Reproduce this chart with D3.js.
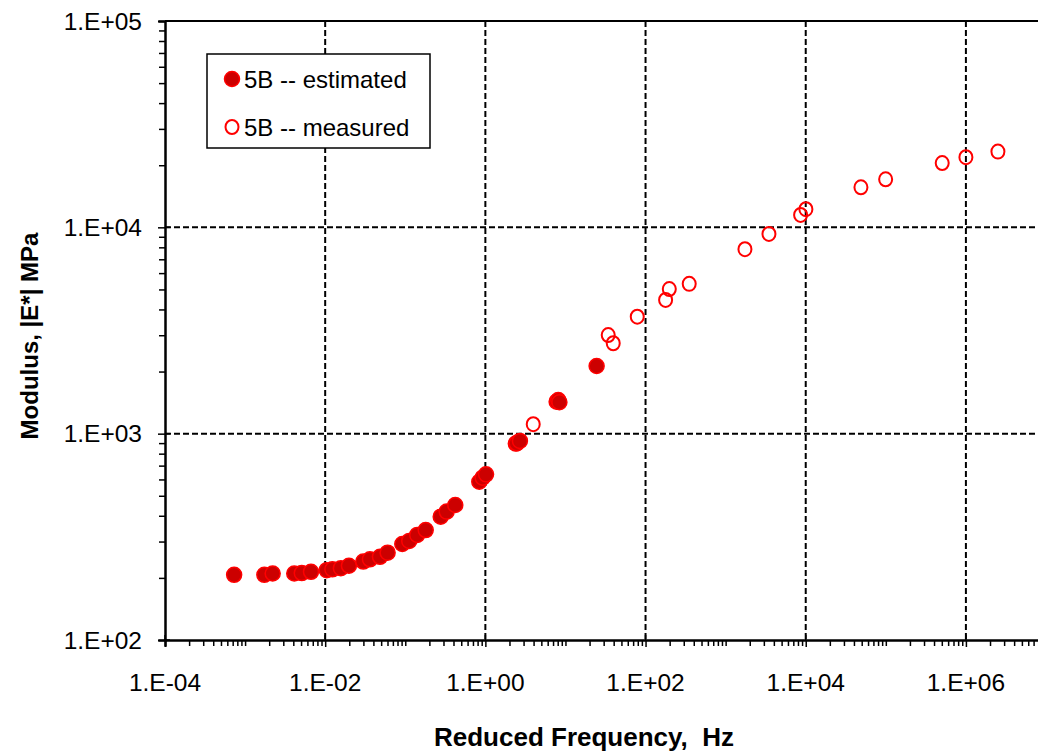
<!DOCTYPE html>
<html><head><meta charset="utf-8">
<script src="https://cdn.jsdelivr.net/npm/d3@7"></script>
<style>body{margin:0;background:#fff}svg{display:block}text{font-family:Arial,"Liberation Sans",sans-serif}</style>
</head><body>
<svg id="chart" width="1038" height="756"></svg>
<script>
// Estimated series (reduced frequency Hz, |E*| MPa)
const estFreq = [7.3e-4,1.74e-3,2.21e-3,4.11e-3,5.1e-3,6.65e-3,0.01045,0.0123,0.0157,0.0198,0.0299,0.0362,0.0483,0.0602,0.0918,0.112,0.141,0.180,0.277,0.329,0.421,0.84,0.925,1.02,2.40,2.46,2.70,7.76,8.13,8.4,24.5];
const estMod  = [207,207,210,210,211,214,218,220,223,229,240,246,253,265,292,302,323,341,396,419,451,585,612,635,895,898,922,1429,1456,1420,2128];
// Measured series
const measFreq = [3.96,34.2,39.5,78.8,178,198,351,1742,3474,8630,10050,48900,99500,506000,1.0e6,2.51e6];
const measMod  = [1112,3006,2743,3690,4446,5024,5321,7835,9290,11480,12250,15630,17100,20480,21880,23280];
const xMajor = [1e-4,1e-2,1e0,1e2,1e4,1e6];
const yMajor = [1e2,1e3,1e4,1e5];
const seriesNames = ["5B -- estimated","5B -- measured"];
const xTitle = "Reduced Frequency,\u00a0 Hz";
const yTitle = "Modulus, |E*| MPa";

const svg = d3.select("#chart");
const x = d3.scaleLog().domain([1e-4,1e7]).range([165,1046]);
const y = d3.scaleLog().domain([1e2,1e5]).range([640,21]);
const fmt = v => { const e = Math.round(Math.log10(v)); return "1.E" + (e<0?"-":"+") + String(Math.abs(e)).padStart(2,"0"); };

// minor tick values
const xMinor = [], yMinor = [];
for (let e=-4;e<7;e++) for (let m=1;m<10;m++){ const v=m*Math.pow(10,e); if(!xMajor.includes(v)) xMinor.push(v);}
for (let e=2;e<5;e++) for (let m=2;m<10;m++) yMinor.push(m*Math.pow(10,e));

// grid
const g = svg.append("g");
g.selectAll(".vg").data(xMajor.slice(1)).join("line")
  .attr("x1",d=>x(d)).attr("x2",d=>x(d)).attr("y1",y(1e5)).attr("y2",y(1e2))
  .attr("stroke","#000").attr("stroke-width",2).attr("stroke-dasharray","6,3");
g.selectAll(".hg").data([1e3,1e4]).join("line")
  .attr("x1",x(1e-4)).attr("x2",x(1e7)).attr("y1",d=>y(d)).attr("y2",d=>y(d))
  .attr("stroke","#000").attr("stroke-width",2).attr("stroke-dasharray","6,3");
g.append("line").attr("x1",x(1e-4)).attr("x2",x(1e7)).attr("y1",y(1e5)).attr("y2",y(1e5))
  .attr("stroke","#000").attr("stroke-width",2);

// axes
const xa = svg.append("g").attr("transform",`translate(0,${y(1e2)})`);
xa.call(d3.axisBottom(x).tickValues(xMinor).tickSize(6).tickFormat(""));
xa.append("g").call(d3.axisBottom(x).tickValues(xMajor).tickSize(7).tickFormat(""));
xa.selectAll(".domain").attr("stroke-width",2);
xa.selectAll("line").attr("stroke","#000").attr("stroke-width",1.5);
xa.selectAll(".lbl").data(xMajor).join("text").attr("class","lbl")
  .attr("x",d=>x(d)).attr("y",51).attr("text-anchor","middle").attr("font-size",24.5).attr("fill","#000").text(fmt);
xa.selectAll(".up").data(xMajor).join("line").attr("x1",d=>x(d)).attr("x2",d=>x(d)).attr("y1",-5).attr("y2",0).attr("stroke","#000").attr("stroke-width",1.5);

const ya = svg.append("g").attr("transform",`translate(${x(1e-4)},0)`);
ya.call(d3.axisLeft(y).tickValues(yMinor).tickSize(6).tickFormat(""));
ya.append("g").call(d3.axisLeft(y).tickValues(yMajor).tickSize(7).tickFormat(""));
ya.selectAll(".domain").attr("stroke-width",2);
ya.selectAll("line").attr("stroke","#000").attr("stroke-width",1.5);
ya.selectAll(".rt").data(yMajor).join("line").attr("x1",0).attr("x2",5).attr("y1",d=>y(d)).attr("y2",d=>y(d)).attr("stroke","#000").attr("stroke-width",1.5);
ya.selectAll(".lbl").data(yMajor).join("text").attr("class","lbl")
  .attr("x",-23).attr("y",d=>y(d)).attr("dy","0.35em").attr("text-anchor","end").attr("font-size",24.5).attr("fill","#000").text(fmt);

// titles
svg.append("text").attr("x",584).attr("y",746).attr("text-anchor","middle").attr("font-size",26).attr("font-weight","bold").text(xTitle);
svg.append("text").attr("transform","translate(38,336) rotate(-90)").attr("text-anchor","middle").attr("font-size",24).attr("font-weight","bold").text(yTitle);

// data
const est = estFreq.map((f,i)=>({f,m:estMod[i]}));
const meas = measFreq.map((f,i)=>({f,m:measMod[i]}));
svg.append("g").selectAll("circle").data(est).join("circle")
  .attr("cx",d=>x(d.f)).attr("cy",d=>y(d.m)).attr("r",7.5)
  .attr("fill","#cc0000").attr("stroke","#ff0000").attr("stroke-width",1.5);
svg.append("g").selectAll("ellipse").data(meas).join("ellipse")
  .attr("cx",d=>x(d.f)).attr("cy",d=>y(d.m)).attr("rx",6.5).attr("ry",7)
  .attr("fill","none").attr("stroke","#ff0000").attr("stroke-width",2);

// legend
const lg = svg.append("g");
lg.append("rect").attr("x",207).attr("y",54).attr("width",223).attr("height",94).attr("fill","#fff").attr("stroke","#000").attr("stroke-width",1.5);
lg.append("circle").attr("cx",232).attr("cy",79).attr("r",7.5).attr("fill","#cc0000").attr("stroke","#ff0000").attr("stroke-width",1.5);
lg.append("ellipse").attr("cx",232).attr("cy",127).attr("rx",6.5).attr("ry",7).attr("fill","none").attr("stroke","#ff0000").attr("stroke-width",2);
lg.selectAll("text").data(seriesNames).join("text")
  .attr("x",244).attr("y",(d,i)=>87.5+i*48).attr("font-size",24).attr("fill","#000").text(d=>d);
</script>
</body></html>
